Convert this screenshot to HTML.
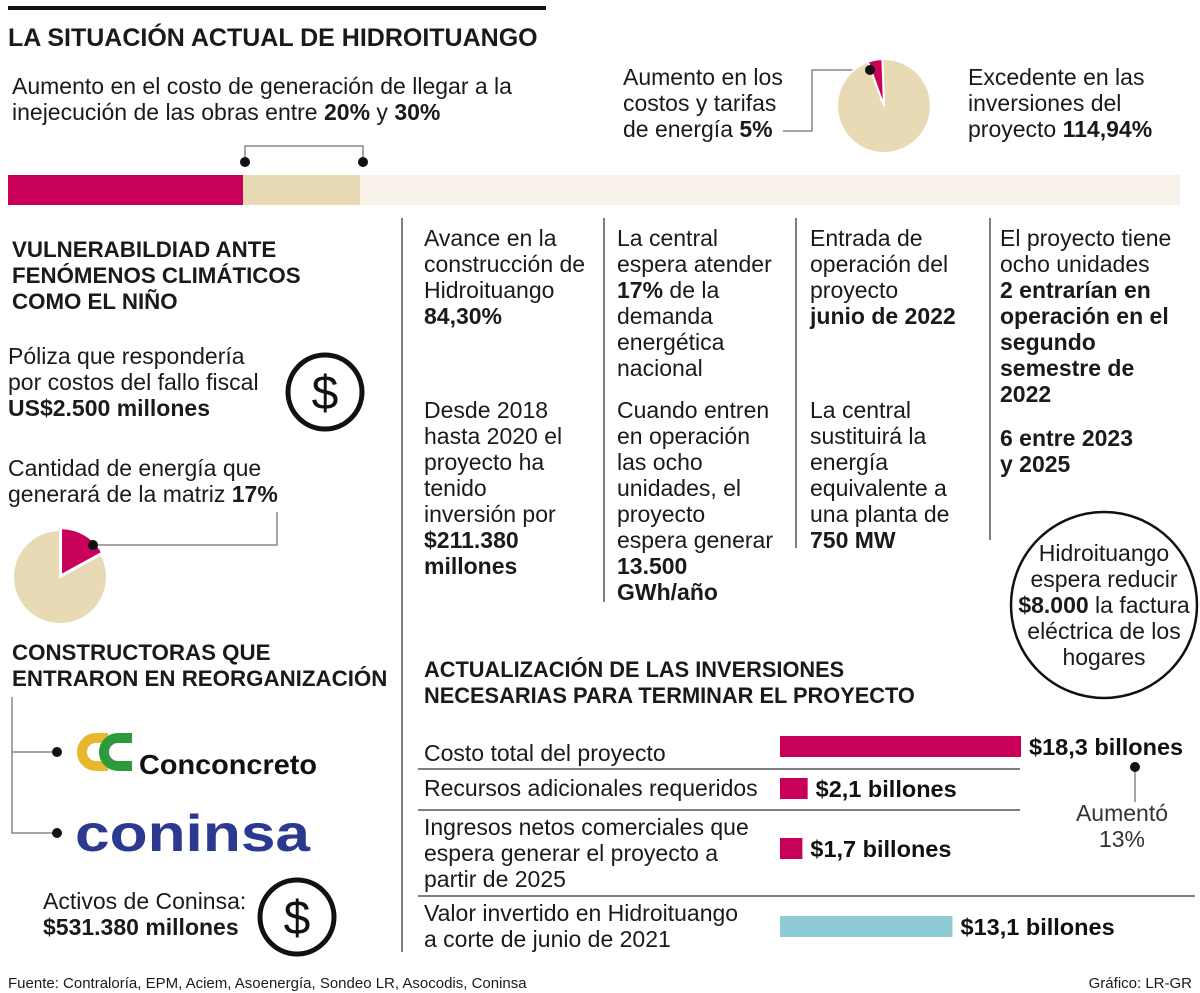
<!DOCTYPE html>
<html><head><meta charset="utf-8">
<style>
body{margin:0;background:#fff;}
#root{position:relative;width:1200px;height:993px;overflow:hidden;font-family:"Liberation Sans",sans-serif;color:#1a1a1a;}
.t{position:absolute;font-size:23px;line-height:26px;white-space:nowrap;}
.h{position:absolute;font-size:22.3px;line-height:26px;font-weight:bold;white-space:nowrap;}
b{font-weight:bold;}
svg{position:absolute;left:0;top:0;}
</style></head><body>
<div id="root">
<svg id="g" width="1200" height="993">
  <rect x="8" y="6" width="538" height="4" fill="#111"/>
  <g>
    <rect x="8" y="175" width="1172" height="30" fill="#f8f1ea"/>
    <rect x="243" y="175" width="117" height="30" fill="#e8dab5"/>
    <rect x="8" y="175" width="235" height="30" fill="#c8005a"/>
  </g>
  <g stroke="#888" stroke-width="1.5" fill="none">
    <polyline points="245,162 245,146 363,146 363,162"/>
    <polyline points="783,131 812,131 812,70 870,70"/>
    <polyline points="93,545 277,545 277,512"/>
    <polyline points="12,697 12,833 57,833"/>
    <line x1="12" y1="752" x2="57" y2="752"/>
    <line x1="1135" y1="767" x2="1135" y2="802"/>
  </g>
  <g fill="#111">
    <circle cx="245" cy="162" r="5"/><circle cx="363" cy="162" r="5"/>
    <circle cx="57" cy="752" r="5"/><circle cx="57" cy="833" r="5"/>
    <circle cx="1135" cy="767" r="5"/>
  </g>
  <g stroke="#555" stroke-width="1.5">
    <line x1="402" y1="218" x2="402" y2="952"/>
    <line x1="604" y1="218" x2="604" y2="602"/>
    <line x1="796" y1="218" x2="796" y2="548"/>
    <line x1="990" y1="218" x2="990" y2="540"/>
    <line x1="418" y1="769" x2="1020" y2="769"/>
    <line x1="418" y1="810" x2="1020" y2="810"/>
    <line x1="418" y1="896" x2="1195" y2="896"/>
  </g>
  <g>
    <circle cx="325" cy="392" r="37" fill="none" stroke="#111" stroke-width="5"/>
    <text x="325" y="409" text-anchor="middle" font-size="48" font-family="Liberation Sans" fill="#111">$</text>
  </g>
  <g>
    <circle cx="297" cy="917" r="37" fill="none" stroke="#111" stroke-width="5"/>
    <text x="297" y="934" text-anchor="middle" font-size="48" font-family="Liberation Sans" fill="#111">$</text>
  </g>
  <circle cx="1104" cy="605" r="93" fill="none" stroke="#111" stroke-width="2.5"/>
  <g>
    <path d="M108,738 H96 A14,14 0 0 0 96,766 H108" fill="none" stroke="#eab630" stroke-width="10"/>
    <path d="M132,738 H118 A14,14 0 0 0 118,766 H132" fill="none" stroke="#2d9a3e" stroke-width="10"/>
    <text x="139" y="774" font-size="28" font-weight="bold" font-family="Liberation Sans" fill="#111" textLength="178" lengthAdjust="spacingAndGlyphs">Conconcreto</text>
  </g>
  <g>
    <text x="75" y="851" font-size="52" font-weight="bold" font-family="Liberation Sans" fill="#2b3990" textLength="235" lengthAdjust="spacingAndGlyphs">coninsa</text>
  </g>
</svg>

<div class="h" style="left:8px;top:22px;font-size:25px;line-height:32px;">LA SITUACIÓN ACTUAL DE HIDROITUANGO</div>
<div class="t" style="left:12px;top:73px;">Aumento en el costo de generación de llegar a la<br>inejecución de las obras entre <b>20%</b> y <b>30%</b></div>
<div class="t" style="left:623px;top:64px;">Aumento en los<br>costos y tarifas<br>de energía <b>5%</b></div>
<div class="t" style="left:968px;top:64px;">Excedente en las<br>inversiones del<br>proyecto <b>114,94%</b></div>

<div class="h" style="left:12px;top:237px;">VULNERABILDIAD ANTE<br>FENÓMENOS CLIMÁTICOS<br>COMO EL NIÑO</div>
<div class="t" style="left:8px;top:343px;">Póliza que respondería<br>por costos del fallo fiscal<br><b>US$2.500 millones</b></div>
<div class="t" style="left:8px;top:455px;">Cantidad de energía que<br>generará de la matriz <b>17%</b></div>
<div class="h" style="left:12px;top:640px;">CONSTRUCTORAS QUE<br>ENTRARON EN REORGANIZACIÓN</div>
<div class="t" style="left:43px;top:888px;">Activos de Coninsa:<br><b>$531.380 millones</b></div>

<div class="t" style="left:424px;top:225px;">Avance en la<br>construcción de<br>Hidroituango<br><b>84,30%</b></div>
<div class="t" style="left:424px;top:397px;">Desde 2018<br>hasta 2020 el<br>proyecto ha<br>tenido<br>inversión por<br><b>$211.380<br>millones</b></div>
<div class="t" style="left:617px;top:225px;">La central<br>espera atender<br><b>17%</b> de la<br>demanda<br>energética<br>nacional</div>
<div class="t" style="left:617px;top:397px;">Cuando entren<br>en operación<br>las ocho<br>unidades, el<br>proyecto<br>espera generar<br><b>13.500<br>GWh/año</b></div>
<div class="t" style="left:810px;top:225px;">Entrada de<br>operación del<br>proyecto<br><b>junio de 2022</b></div>
<div class="t" style="left:810px;top:397px;">La central<br>sustituirá la<br>energía<br>equivalente a<br>una planta de<br><b>750 MW</b></div>
<div class="t" style="left:1000px;top:225px;">El proyecto tiene<br>ocho unidades<br><b>2 entrarían en<br>operación en el<br>segundo<br>semestre de<br>2022</b></div>
<div class="h" style="left:1000px;top:425px;font-size:23px;">6 entre 2023<br>y 2025</div>
<div class="t" style="left:1004px;top:540px;width:200px;text-align:center;">Hidroituango<br>espera reducir<br><b>$8.000</b> la factura<br>eléctrica de los<br>hogares</div>

<div class="h" style="left:424px;top:657px;font-size:21.8px;">ACTUALIZACIÓN DE LAS INVERSIONES<br>NECESARIAS PARA TERMINAR EL PROYECTO</div>
<div class="t" style="left:424px;top:740px;">Costo total del proyecto</div>
<div class="t" style="left:424px;top:775px;">Recursos adicionales requeridos</div>
<div class="t" style="left:424px;top:814px;">Ingresos netos comerciales que<br>espera generar el proyecto a<br>partir de 2025</div>
<div class="t" style="left:424px;top:900px;">Valor invertido en Hidroituango<br>a corte de junio de 2021</div>
<div class="t" style="left:1060px;top:800px;width:124px;text-align:center;color:#333;">Aumentó<br>13%</div>

<div class="t" style="left:8px;top:975px;font-size:15px;line-height:18px;">Fuente: Contraloría, EPM, Aciem, Asoenergía, Sondeo LR, Asocodis, Coninsa</div>
<div class="t" style="right:8px;top:975px;font-size:15px;line-height:18px;">Gráfico: LR-GR</div>
</div>

<script>
const barLabels = ["$18,3 billones","$2,1 billones","$1,7 billones","$13,1 billones"];
const barValues = [18.3, 2.1, 1.7, 13.1];
const barColors = ["#c8005a","#c8005a","#c8005a","#8fcbd3"];
const pieTariff = [5, 95];
const pieMatrix = [17, 83];

const svg = document.getElementById('g');
const NS = 'http://www.w3.org/2000/svg';
const x0 = 780, scale = 241 / 18.3;
const xScale = v => v * scale;
const barTops = [736, 778, 838, 916];
barValues.forEach((v, i) => {
  const r = document.createElementNS(NS, 'rect');
  r.setAttribute('x', x0); r.setAttribute('y', barTops[i]);
  r.setAttribute('width', xScale(v)); r.setAttribute('height', 21);
  r.setAttribute('fill', barColors[i]);
  
  
  svg.appendChild(r);
  const t = document.createElementNS(NS, 'text');
  t.setAttribute('x', x0 + xScale(v) + 8); t.setAttribute('y', barTops[i] + 19);
  t.setAttribute('font-size', '23.5'); t.setAttribute('font-weight', 'bold');
  t.setAttribute('font-family', 'Liberation Sans'); t.setAttribute('fill', '#111');
  t.textContent = barLabels[i];
  
  
  svg.appendChild(t);
});

function arc(cx, cy, r, a0, a1, color, off) {
  const m = (a0 + a1) / 2 * Math.PI / 180;
  cx += off * Math.sin(m); cy -= off * Math.cos(m);
  const p = a => [cx + r * Math.sin(a * Math.PI / 180), cy - r * Math.cos(a * Math.PI / 180)];
  const s = p(a0), e = p(a1);
  const large = (a1 - a0) > 180 ? 1 : 0;
  const path = document.createElementNS(NS, 'path');
  path.setAttribute('d', `M${cx},${cy} L${s[0]},${s[1]} A${r},${r} 0 ${large} 1 ${e[0]},${e[1]} Z`);
  path.setAttribute('fill', color);
  path.setAttribute('stroke', '#fff'); path.setAttribute('stroke-width', '2');
  
  
  return path;
}
function pie(vals, cx, cy, r, start, offRed) {
  const tot = vals.reduce((a, b) => a + b, 0);
  const a1 = start + vals[0] / tot * 360;
  svg.appendChild(arc(cx, cy, r, a1, start + 360, '#e8dab5', 0));
  svg.appendChild(arc(cx, cy, r, start, a1, '#c8005a', offRed));
}
pie(pieTariff, 884, 106, 47, -20, 0);
pie(pieMatrix, 60, 577, 47, 0, 2);
[[870, 70], [93, 545]].forEach(([x, y]) => {
  const c = document.createElementNS(NS, 'circle');
  c.setAttribute('cx', x); c.setAttribute('cy', y); c.setAttribute('r', 5); c.setAttribute('fill', '#111');
  
  
  svg.appendChild(c);
});
</script>
</body></html>
